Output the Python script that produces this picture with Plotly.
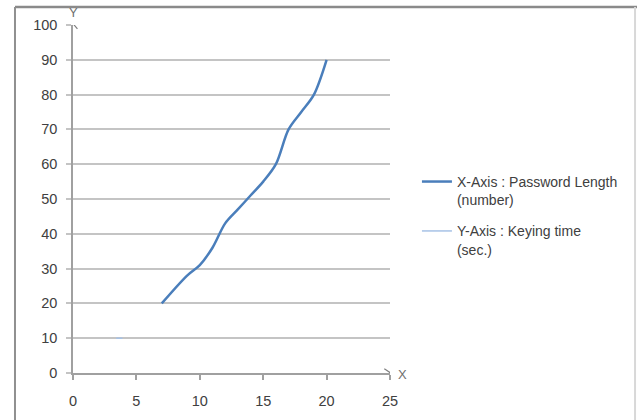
import plotly.graph_objects as go

# Data
pw_length = [7, 9, 10, 11, 12, 13, 14, 15, 16, 17, 18, 19, 20]
keying_time = [20, 28, 31, 36, 43, 47, 51, 55, 60, 70, 75, 80, 90]
y_series_x = [3.4, 3.9]
y_series_y = [10, 10]

x_ticks = [0, 5, 10, 15, 20, 25]
y_ticks = [0, 10, 20, 30, 40, 50, 60, 70, 80, 90, 100]

FONT = "Liberation Sans"
TXT = "#404040"

fig = go.Figure()
fig.add_trace(go.Scatter(
    x=pw_length, y=keying_time, mode="lines",
    name="X-Axis : Password Length<br>(number)",
    line=dict(color="#4a7ebb", width=2.5, shape="spline", smoothing=0.9),
    legendgroup="a",
))
fig.add_trace(go.Scatter(
    x=y_series_x, y=y_series_y, mode="lines",
    name="Y-Axis : Keying time<br>(sec.)",
    line=dict(color="#a6c2e6", width=1.5),
    legendgroup="b",
))

# Chart frame (outer border)
fig.add_shape(type="line", xref="paper", yref="paper", x0=-0.183, x1=1.78, y0=1.052, y1=1.052,
              line=dict(color="#8a8a8a", width=2.5))
fig.add_shape(type="line", xref="paper", yref="paper", x0=-0.183, x1=-0.183, y0=1.052, y1=-0.3,
              line=dict(color="#909090", width=2))
fig.add_shape(type="line", xref="paper", yref="paper", x0=1.773, x1=1.773, y0=1.052, y1=-0.3,
              line=dict(color="#d8d8d8", width=2))

# Axis arrowheads
fig.add_shape(type="path", xref="x", yref="y",
              path="M -0.35,98.9 L 0,100.4 L 0.35,98.9",
              line=dict(color="#808080", width=1.2))
fig.add_shape(type="path", xref="x", yref="y",
              path="M 24.55,1.2 L 25.05,0 L 24.55,-1.2",
              line=dict(color="#808080", width=1.2))
fig.add_annotation(x=0, y=1.037, xref="paper", yref="paper", text="Y", showarrow=False,
                   xanchor="center", yanchor="middle",
                   font=dict(family=FONT, size=13, color="#707070"))
fig.add_annotation(x=1.041, y=-0.004, xref="paper", yref="paper", text="X", showarrow=False,
                   xanchor="center", yanchor="middle",
                   font=dict(family=FONT, size=13, color="#707070"))

fig.update_layout(
    width=637, height=420,
    margin=dict(l=73, r=247, t=25, b=47),
    paper_bgcolor="white", plot_bgcolor="white",
    font=dict(family=FONT, size=14.5, color=TXT),
    showlegend=True,
    legend=dict(x=1.085, y=0.595, xanchor="left", yanchor="top",
                valign="top", tracegroupgap=10,
                font=dict(family=FONT, size=14, color=TXT),
                bgcolor="rgba(0,0,0,0)"),
    xaxis=dict(range=[0, 25], tickvals=x_ticks, showgrid=False, zeroline=False,
               showline=True, linecolor="#a0a0a0", linewidth=1.5,
               ticks="outside", ticklen=5, tickcolor="#a0a0a0", tickwidth=1.5,
               ticklabelstandoff=9, fixedrange=True),
    yaxis=dict(range=[0, 100], tickvals=y_ticks, showgrid=True,
               gridcolor="#c4c4c4", gridwidth=1.5, zeroline=False,
               showline=True, linecolor="#a0a0a0", linewidth=1.5,
               ticks="outside", ticklen=5, tickcolor="#c4c4c4", tickwidth=1.5,
               ticklabelstandoff=6, fixedrange=True),
)

fig.write_html("out.html", config={"displayModeBar": False},
               post_script="document.body.style.margin='0';document.body.style.overflow='hidden';")
